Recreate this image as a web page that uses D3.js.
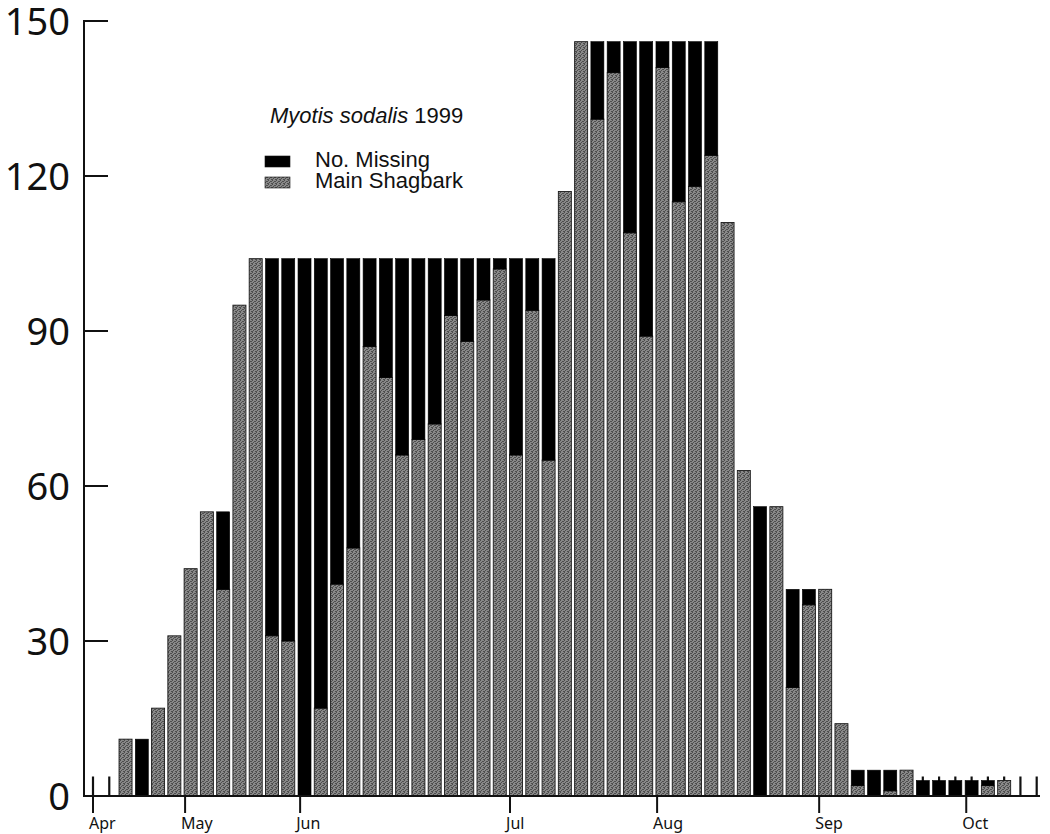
<!DOCTYPE html>
<html>
<head>
<meta charset="utf-8">
<script src="https://cdn.jsdelivr.net/npm/d3@7"></script>
<style>
  body { margin: 0; background: #fff; }
  svg { display: block; }
</style>
</head>
<body>
<div id="chart"></div>
<script>
// one slot per survey, empty slots (0) only show a day marker
var shagbark = [0, 0,
  11, 0, 17, 31, 44, 55, 40, 95, 104, 31, 30, 0, 17, 41, 48, 87, 81, 66, 69, 72,
  93, 88, 96, 102, 66, 94, 65, 117, 146, 131, 140, 109, 89, 141, 115, 118, 124, 111,
  63, 0, 56, 21, 37, 40, 14, 2, 0, 1, 5, 0, 0, 0, 0, 2, 3,
  0, 0];
var missing = [0, 0,
  0, 11, 0, 0, 0, 0, 15, 0, 0, 73, 74, 104, 87, 63, 56, 17, 23, 38, 35, 32,
  11, 16, 8, 2, 38, 10, 39, 0, 0, 15, 6, 37, 57, 5, 31, 28, 22, 0,
  0, 56, 0, 19, 3, 0, 0, 3, 5, 4, 0, 3, 3, 3, 3, 1, 0,
  0, 0];

// month labels and the slot where each month starts
var months = ["Apr", "May", "Jun", "Jul", "Aug", "Sep", "Oct"];
var monthSlot = [0, 5.66, 12.73, 25.63, 34.67, 44.63, 53.67];

var yTicks = [0, 30, 60, 90, 120, 150];

var legendTitle = "Myotis sodalis";
var legendYear = "1999";
var seriesNames = ["No. Missing", "Main Shagbark"];

makeChart();

function makeChart() {
  var width = 1050, height = 834;

  var svg = d3.select("#chart").append("svg")
      .attr("width", width)
      .attr("height", height);

  // speckled gray like the printed bars
  var pat = svg.append("defs").append("pattern")
      .attr("id", "speckle")
      .attr("width", 4).attr("height", 4)
      .attr("patternUnits", "userSpaceOnUse");
  pat.append("rect").attr("width", 4).attr("height", 4).attr("fill", "#898989");
  [[0, 0], [2, 1], [1, 2], [3, 3], [3, 1], [0, 3]].forEach(function(p) {
    pat.append("rect").attr("x", p[0]).attr("y", p[1])
      .attr("width", 1).attr("height", 1).attr("fill", "#4e4e4e");
  });

  // table of slots built from the arrays
  var slots = shagbark.map(function(g, i) {
    return { i: i, gray: g, miss: missing[i] };
  });

  var x = d3.scaleLinear()
      .domain([0, slots.length - 1])
      .range([93, 1036.7]);

  var y = d3.scaleLinear()
      .domain([0, 150])
      .range([796, 21]);

  var barW = 13;

  // little day markers at every slot (show where there is no bar)
  svg.append("g")
    .selectAll("line")
    .data(slots)
    .enter()
    .append("line")
      .attr("x1", function(d) { return x(d.i); })
      .attr("x2", function(d) { return x(d.i); })
      .attr("y1", y(0))
      .attr("y2", y(0) - 19.5)
      .attr("stroke", "#111")
      .attr("stroke-width", 2.2);

  var bars = svg.append("g");

  // Main Shagbark (bottom part)
  bars.selectAll("rect.gray")
    .data(slots.filter(function(d) { return d.gray > 0; }))
    .enter()
    .append("rect")
      .attr("class", "gray")
      .attr("x", function(d) { return x(d.i) - barW / 2; })
      .attr("y", function(d) { return y(d.gray); })
      .attr("width", barW)
      .attr("height", function(d) { return y(0) - y(d.gray); })
      .attr("fill", "url(#speckle)")
      .attr("stroke", "#1a1a1a")
      .attr("stroke-width", 0.9);

  // No. Missing stacked on top
  bars.selectAll("rect.black")
    .data(slots.filter(function(d) { return d.miss > 0; }))
    .enter()
    .append("rect")
      .attr("class", "black")
      .attr("x", function(d) { return x(d.i) - barW / 2; })
      .attr("y", function(d) { return y(d.gray + d.miss); })
      .attr("width", barW)
      .attr("height", function(d) { return y(d.gray) - y(d.gray + d.miss); })
      .attr("fill", "#000")
      .attr("stroke", "#000")
      .attr("stroke-width", 0.6);

  // y axis
  var yAxis = svg.append("g");
  yAxis.append("line")
      .attr("x1", 84).attr("x2", 84)
      .attr("y1", y(150) - 1).attr("y2", y(0) + 1)
      .attr("stroke", "#111").attr("stroke-width", 2);

  yAxis.selectAll("line.tick")
    .data(yTicks)
    .enter()
    .append("line")
      .attr("class", "tick")
      .attr("x1", 84).attr("x2", 108)
      .attr("y1", function(d) { return y(d); })
      .attr("y2", function(d) { return y(d); })
      .attr("stroke", "#111").attr("stroke-width", 2);

  yAxis.selectAll("text")
    .data(yTicks)
    .enter()
    .append("text")
      .attr("x", 70)
      .attr("y", function(d) { return y(d); })
      .attr("dy", "0.36em")
      .attr("text-anchor", "end")
      .style("font-family", "'Noto Sans', 'Open Sans', sans-serif")
      .style("font-size", "38px")
      .style("fill", "#111")
      .text(function(d) { return d; });

  // x axis
  var xAxis = svg.append("g");
  xAxis.append("line")
      .attr("x1", 83).attr("x2", 1040)
      .attr("y1", y(0)).attr("y2", y(0))
      .attr("stroke", "#111").attr("stroke-width", 2);

  xAxis.selectAll("line.month")
    .data(monthSlot)
    .enter()
    .append("line")
      .attr("class", "month")
      .attr("x1", function(d) { return x(d); })
      .attr("x2", function(d) { return x(d); })
      .attr("y1", y(0))
      .attr("y2", y(0) + 17)
      .attr("stroke", "#111").attr("stroke-width", 2);

  xAxis.selectAll("text")
    .data(months)
    .enter()
    .append("text")
      .attr("x", function(d, i) { return x(monthSlot[i]) - 4; })
      .attr("y", 829)
      .style("font-family", "'Noto Sans', 'Open Sans', sans-serif")
      .style("font-size", "16px")
      .style("fill", "#111")
      .text(function(d) { return d; });

  // legend
  var legend = svg.append("g")
      .style("font-family", "'Liberation Sans', Arial, sans-serif")
      .style("font-size", "22px")
      .style("fill", "#111");

  var title = legend.append("text")
      .attr("x", 270)
      .attr("y", 123);
  title.append("tspan")
      .style("font-style", "italic")
      .text(legendTitle);
  title.append("tspan")
      .text(" " + legendYear);

  var rows = [{ name: seriesNames[0], fill: "#000" },
              { name: seriesNames[1], fill: "url(#speckle)" }];

  legend.selectAll("rect")
    .data(rows)
    .enter()
    .append("rect")
      .attr("x", 265)
      .attr("y", function(d, i) { return 156 + i * 21; })
      .attr("width", 25)
      .attr("height", 11)
      .attr("fill", function(d) { return d.fill; })
      .attr("stroke", "#111")
      .attr("stroke-width", 0.6);

  legend.selectAll("text.row")
    .data(rows)
    .enter()
    .append("text")
      .attr("class", "row")
      .attr("x", 315)
      .attr("y", function(d, i) { return 167 + i * 21; })
      .text(function(d) { return d.name; });
}
</script>
</body>
</html>
